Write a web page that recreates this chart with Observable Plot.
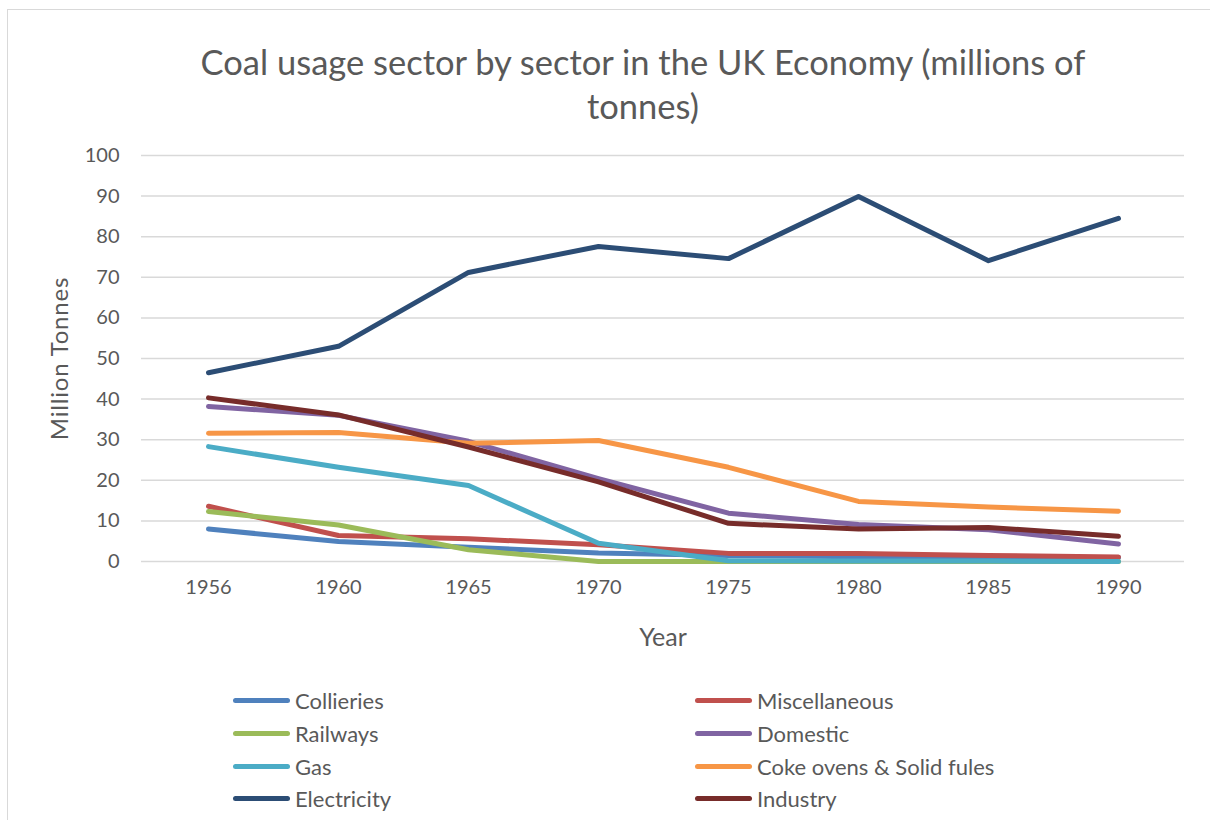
<!DOCTYPE html>
<html><head><meta charset="utf-8">
<script src="https://cdn.jsdelivr.net/npm/d3@7"></script>
<script src="https://cdn.jsdelivr.net/npm/@observablehq/plot@0.6"></script>
<style>
body{margin:0;background:#fff;width:1210px;height:820px;overflow:hidden;position:relative;font-family:Lato,"Open Sans",sans-serif;color:#595959}
#frame{position:absolute;left:7px;top:9px;width:1300px;height:900px;border:1.5px solid #d9d9d9;pointer-events:none}
#title{position:absolute;left:0;top:40px;width:1286px;text-align:center;font-size:34.5px;line-height:44px;color:#595959}
#chart{position:absolute;left:0;top:140px}
#chart svg g[aria-label="y-axis label"] text{letter-spacing:0.8px}
.leg{position:absolute;display:flex;align-items:center;font-size:22px;color:#595959;height:30px}
.sw{width:57px;height:5px;border-radius:3px;margin-right:5px}
</style></head>
<body>
<div id="frame"></div>
<div id="title">Coal usage sector by sector in the UK Economy (millions of<br>tonnes)</div>
<div id="chart"></div>
<div id="legend"></div>
<script>
const years = ["1956","1960","1965","1970","1975","1980","1985","1990"];
const seriesNames = ["Collieries","Miscellaneous","Railways","Domestic","Gas","Coke ovens & Solid fules","Electricity","Industry"];
const seriesColors = ["#4F81BD","#C0504D","#9BBB59","#8064A2","#4BACC6","#F79646","#2C4D75","#772C2A"];
const collieries = [8.0,4.9,3.5,2.1,1.5,1.2,1.0,1.0];
const miscellaneous = [13.6,6.4,5.6,4.1,2.0,2.0,1.5,1.1];
const railways = [12.3,9.0,2.9,0,0,0,0,0];
const domestic = [38.2,36.0,29.6,20.4,11.9,9.1,7.8,4.3];
const gas = [28.3,23.2,18.7,4.5,0.2,0.1,0.1,0.0];
const coke = [31.6,31.8,29.1,29.8,23.2,14.8,13.4,12.4];
const electricity = [46.5,53.0,71.2,77.6,74.6,89.9,74.1,84.5];
const industry = [40.3,36.1,28.2,19.6,9.4,8.0,8.4,6.2];
const yTicks = [0,10,20,30,40,50,60,70,80,90,100];

const allSeries = [collieries, miscellaneous, railways, domestic, gas, coke, electricity, industry];
const rows = [];
allSeries.forEach((vals, si) => vals.forEach((v, i) => rows.push({series: seriesNames[si], year: years[i], value: v})));

const plot = Plot.plot({
  width: 1210,
  height: 520,
  marginTop: 15,
  marginBottom: 99,
  marginLeft: 141,
  marginRight: 26,
  style: {fontFamily: "Lato, 'Open Sans', sans-serif", fontSize: "20px", color: "#595959", background: "transparent"},
  x: {type: "point", domain: years, padding: 0.5, label: "Year"},
  y: {domain: [0, 100], label: "Million Tonnes"},
  color: {domain: seriesNames, range: seriesColors},
  marks: [
    Plot.gridY(yTicks, {stroke: "#d9d9d9", strokeOpacity: 1, strokeWidth: 1.5}),
    Plot.axisY(yTicks, {tickSize: 0, tickPadding: 22, fontSize: 20, fill: "#595959", label: null}),
    Plot.axisY(yTicks, {text: null, tickSize: 0, label: "Million Tonnes", labelArrow: "none", labelAnchor: "center", labelOffset: 91, fontSize: 24, fill: "#595959"}),
    Plot.axisX({tickSize: 0, tickPadding: 18, fontSize: 20, fill: "#595959", label: null}),
    Plot.axisX({text: null, tickSize: 0, label: "Year", labelArrow: "none", labelAnchor: "center", labelOffset: 84, fontSize: 25, fill: "#595959"}),
    Plot.line(rows, {x: "year", y: "value", z: "series", stroke: "series", strokeWidth: 5, strokeLinecap: "round", strokeLinejoin: "round"})
  ]
});
document.getElementById("chart").appendChild(plot);

const legend = document.getElementById("legend");
const colX = [233, 695];
const rowY = [700, 733, 766, 798];
seriesNames.forEach((name, i) => {
  const d = document.createElement("div");
  d.className = "leg";
  d.style.left = colX[i % 2] + "px";
  d.style.top = (rowY[Math.floor(i / 2)] - 15) + "px";
  const sw = document.createElement("div");
  sw.className = "sw";
  sw.style.background = seriesColors[i];
  const t = document.createElement("span");
  t.textContent = name;
  d.appendChild(sw); d.appendChild(t);
  legend.appendChild(d);
});
</script>
</body></html>
